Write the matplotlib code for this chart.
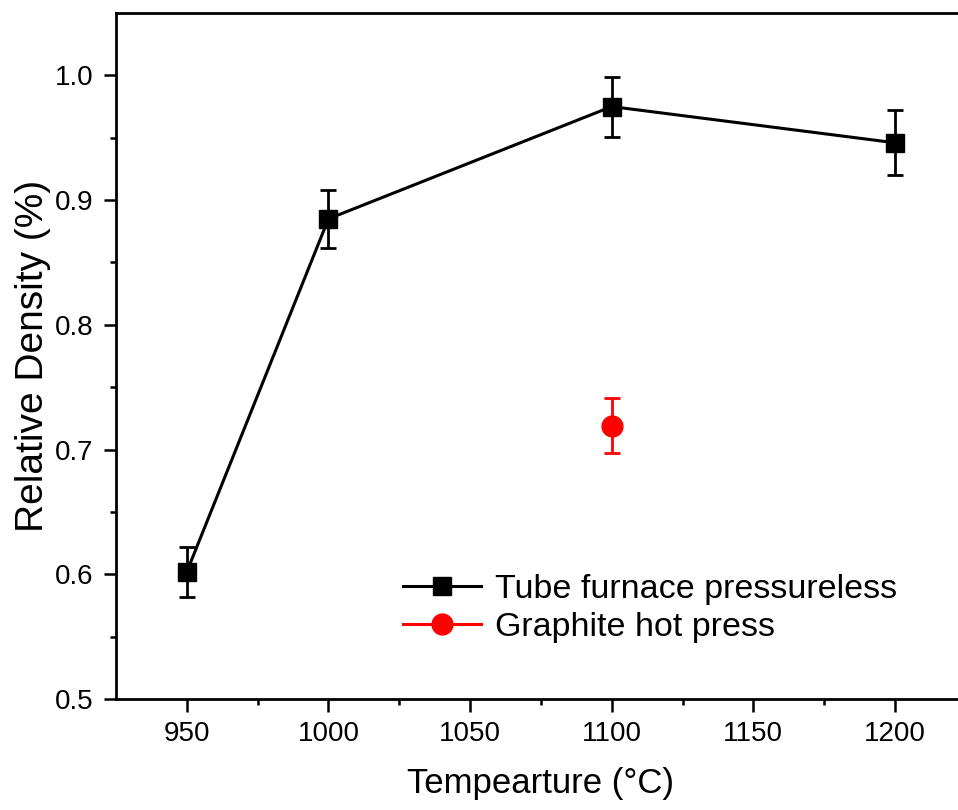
import numpy as np
import matplotlib.pyplot as plt

plt.rcParams['font.family'] = ['Liberation Sans', 'DejaVu Sans']

# Dados
temp_tubo = [950, 1000, 1100, 1200]
dens_tubo = [0.602, 0.885, 0.975, 0.946]
erro_tubo = [0.020, 0.023, 0.024, 0.026]

temp_grafite = [1100]
dens_grafite = [0.719]
erro_grafite = [0.022]

fig = plt.figure(figsize=(9.58, 8.10), dpi=100)
ax = fig.add_axes([0.1211, 0.137, 0.887, 0.8469])

# Barras de erro
ax.errorbar(temp_tubo, dens_tubo, yerr=erro_tubo, fmt='none', ecolor='black',
            elinewidth=2, capsize=6, capthick=2)
ax.errorbar(temp_grafite, dens_grafite, yerr=erro_grafite, fmt='none', ecolor='red',
            elinewidth=2, capsize=6, capthick=2)

# Curvas
ax.plot(temp_tubo, dens_tubo, color='black', linewidth=2.2, marker='s',
        markersize=13.5, label='Tube furnace pressureless')
ax.plot(temp_grafite, dens_grafite, color='red', linewidth=2.2, marker='o',
        markersize=15, label='Graphite hot press')

ax.set_xlim(925, 1225)
ax.set_ylim(0.5, 1.05)
ax.set_xticks([950, 1000, 1050, 1100, 1150, 1200])
ax.set_xticks([975, 1025, 1075, 1125, 1175, 1225], minor=True)
ax.set_yticks([0.5, 0.6, 0.7, 0.8, 0.9, 1.0])
ax.set_yticks([0.55, 0.65, 0.75, 0.85, 0.95], minor=True)

ax.spines['right'].set_visible(False)
for s in ['left', 'bottom', 'top']:
    ax.spines[s].set_linewidth(2)

ax.tick_params(which='major', direction='out', length=9, width=1.8, labelsize=20, pad=7)
ax.tick_params(which='minor', direction='out', length=4.5, width=1.8)
ax.tick_params(top=False, right=False)

ax.set_xlabel('Tempearture (°C)', fontsize=25, labelpad=14)
ax.set_ylabel('Relative Density (%)', fontsize=28, labelpad=3)

ax.legend(loc='upper left', bbox_to_anchor=(0.3376, 0.182), frameon=False,
          fontsize=24.5, borderpad=0, borderaxespad=0, handlelength=2.3,
          handletextpad=0.4, labelspacing=0.2)

plt.savefig('out.png', dpi=100)
